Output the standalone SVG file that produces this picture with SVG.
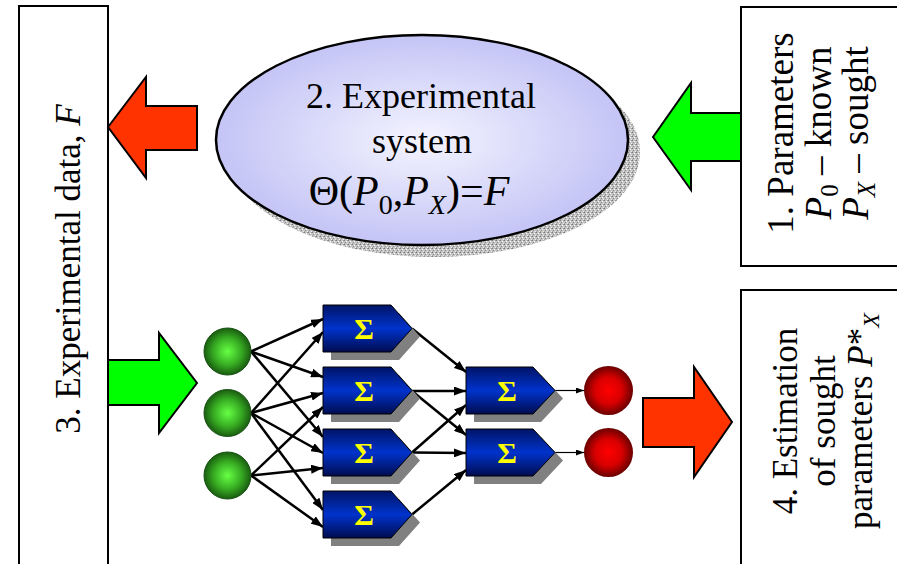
<svg xmlns="http://www.w3.org/2000/svg" width="897" height="564" viewBox="0 0 897 564">
<style>
.box{fill:#fff;stroke:#000;stroke-width:2}
.t{font-family:"Liberation Serif","Times New Roman",serif;fill:#000}
.it{font-style:italic}
.bigarrow{stroke:#000;stroke-width:2;stroke-linejoin:miter}
.red{fill:#ff3300}
.green{fill:#00ff00}
.conn{stroke:#000;stroke-width:2.5;fill:none;marker-end:url(#ah)}
.thin{stroke:#000;stroke-width:1.2;fill:none;marker-end:url(#ahs)}
.sig{fill:url(#blue);stroke:#000;stroke-width:1}
.shadow{fill:#808080}
.sigma{font-family:"Liberation Serif","DejaVu Serif",serif;font-weight:bold;font-size:30px;fill:#ffff00}
</style>
<defs>
<marker id="ah" markerUnits="userSpaceOnUse" markerWidth="12" markerHeight="9" refX="12" refY="4.5" orient="auto"><path d="M0,0 L12,4.5 L0,9 z" fill="#000"/></marker>
<marker id="ahs" markerUnits="userSpaceOnUse" markerWidth="8" markerHeight="6" refX="8" refY="3" orient="auto"><path d="M0,0 L8,3 L0,6 z" fill="#000"/></marker>
<linearGradient id="blue" x1="0" y1="0" x2="0" y2="1"><stop offset="0" stop-color="#001466"/><stop offset="0.5" stop-color="#0033cc"/><stop offset="1" stop-color="#000c50"/></linearGradient>
<radialGradient id="gball" cx="0.5" cy="0.5" r="0.5"><stop offset="0" stop-color="#66ff44"/><stop offset="0.6" stop-color="#36aa22"/><stop offset="1" stop-color="#1a5c10"/></radialGradient>
<radialGradient id="rball" cx="0.5" cy="0.5" r="0.5"><stop offset="0" stop-color="#ff0000"/><stop offset="0.55" stop-color="#d80000"/><stop offset="1" stop-color="#6a0000"/></radialGradient>
<radialGradient id="ell" cx="0.5" cy="0.5" r="0.5"><stop offset="0" stop-color="#f4f4ff"/><stop offset="1" stop-color="#c4c4f6"/></radialGradient>
<pattern id="stip" width="4" height="4" patternUnits="userSpaceOnUse"><rect width="4" height="4" fill="#c4c4c4"/><rect x="0" y="0" width="1" height="1" fill="#7a7a7a"/><rect x="2" y="1" width="1" height="1" fill="#ffffff"/><rect x="1" y="2" width="1" height="1" fill="#8a8a8a"/><rect x="3" y="3" width="1" height="1" fill="#eeeeee"/><rect x="3" y="0" width="1" height="1" fill="#999"/><rect x="0" y="3" width="1" height="1" fill="#aaa"/></pattern>
</defs>

<g id="node3">
<rect class="box" x="19" y="6" width="89" height="600"/>
<text class="t" font-size="35" text-anchor="middle" transform="translate(80,269) rotate(-90)">3. Experimental data, <tspan class="it">F</tspan></text>
</g>

<g id="node1">
<rect class="box" x="741" y="7" width="200" height="259"/>
<g class="t" font-size="37" text-anchor="middle">
<text transform="translate(793,133) rotate(-90)">1. Parameters</text>
<text transform="translate(831,133) rotate(-90)"><tspan class="it">P</tspan><tspan dy="7" font-size="25">0</tspan><tspan dy="-7"> – known</tspan></text>
<text transform="translate(868,133) rotate(-90)"><tspan class="it">P</tspan><tspan dy="7" font-size="25" class="it">X</tspan><tspan dy="-7"> – sought</tspan></text>
</g>
</g>

<g id="node4">
<rect class="box" x="741" y="290" width="200" height="320"/>
<g class="t" font-size="35" text-anchor="middle">
<text transform="translate(797,421) rotate(-90)">4. Estimation</text>
<text transform="translate(835,421) rotate(-90)">of sought</text>
<text transform="translate(872,421) rotate(-90)">parameters <tspan class="it">P</tspan>*<tspan dy="7" font-size="24" class="it">X</tspan></text>
</g>
</g>

<g id="node2">
<ellipse cx="434" cy="152" rx="206" ry="105" fill="url(#stip)"/>
<ellipse cx="422" cy="140" rx="206" ry="105" fill="url(#ell)" stroke="#000" stroke-width="2.5"/>
<g class="t" text-anchor="middle">
<text x="421" y="108" font-size="36">2. Experimental</text>
<text x="422" y="153" font-size="36">system</text>
<text x="409" y="205" font-size="42">Θ(<tspan class="it">P</tspan><tspan dy="9" font-size="28">0</tspan><tspan dy="-9">,</tspan><tspan class="it">P</tspan><tspan dy="9" font-size="28" class="it">X</tspan><tspan dy="-9">)=</tspan><tspan class="it">F</tspan></text>
</g>
</g>

<g id="big-arrows">
<polygon class="bigarrow red" points="108,127 146,77 146,106 197,106 197,150 146,150 146,178"/>
<polygon class="bigarrow green" points="108,360 159,360 159,333 197,383 159,433 159,405 108,405"/>
<polygon class="bigarrow green" points="653,137 691,83 691,113 741,113 741,161 691,161 691,190"/>
<polygon class="bigarrow red" points="643,398 694,398 694,367 732,422 694,477 694,447 643,447"/>
</g>

<g id="connectors">
<line class="conn" x1="251" y1="351.5" x2="323" y2="319"/>
<line class="conn" x1="251" y1="351.5" x2="323" y2="377"/>
<line class="conn" x1="251" y1="351.5" x2="323" y2="437"/>
<line class="conn" x1="251" y1="413" x2="323" y2="332"/>
<line class="conn" x1="251" y1="413" x2="323" y2="393"/>
<line class="conn" x1="251" y1="413" x2="323" y2="453"/>
<line class="conn" x1="251" y1="413" x2="323" y2="510"/>
<line class="conn" x1="251" y1="475.5" x2="323" y2="407"/>
<line class="conn" x1="251" y1="475.5" x2="323" y2="468"/>
<line class="conn" x1="251" y1="475.5" x2="323" y2="527"/>
<line class="conn" x1="412" y1="328.5" x2="466" y2="372"/>
<line class="conn" x1="412" y1="391" x2="466" y2="391"/>
<line class="conn" x1="412" y1="391" x2="466" y2="435"/>
<line class="conn" x1="412" y1="452.5" x2="466" y2="405"/>
<line class="conn" x1="412" y1="452.5" x2="466" y2="453"/>
<line class="conn" x1="412" y1="514.5" x2="466" y2="470"/>
<line class="thin" x1="555" y1="390.5" x2="584" y2="390.5"/>
<line class="thin" x1="555" y1="452.5" x2="584" y2="452.5"/>
</g>

<g id="in1"><circle cx="227.5" cy="351.5" r="23.5" fill="url(#gball)" stroke="#145010" stroke-width="1"/></g>
<g id="in2"><circle cx="227.5" cy="413" r="23.5" fill="url(#gball)" stroke="#145010" stroke-width="1"/></g>
<g id="in3"><circle cx="227.5" cy="475.5" r="23.5" fill="url(#gball)" stroke="#145010" stroke-width="1"/></g>

<g id="h1"><path class="shadow" d="M331,313 h68 l21,23.5 l-21,23.5 h-68 z"/><path class="sig" d="M323,305 h68 l21,23.5 l-21,23.5 h-68 z"/><text class="sigma" x="364" y="339" text-anchor="middle">Σ</text></g>
<g id="h2"><path class="shadow" d="M331,375 h68 l21,23.5 l-21,23.5 h-68 z"/><path class="sig" d="M323,367 h68 l21,23.5 l-21,23.5 h-68 z"/><text class="sigma" x="364" y="401" text-anchor="middle">Σ</text></g>
<g id="h3"><path class="shadow" d="M331,437 h68 l21,23.5 l-21,23.5 h-68 z"/><path class="sig" d="M323,429 h68 l21,23.5 l-21,23.5 h-68 z"/><text class="sigma" x="364" y="463" text-anchor="middle">Σ</text></g>
<g id="h4"><path class="shadow" d="M331,499 h68 l21,23.5 l-21,23.5 h-68 z"/><path class="sig" d="M323,491 h68 l21,23.5 l-21,23.5 h-68 z"/><text class="sigma" x="364" y="525" text-anchor="middle">Σ</text></g>

<g id="o1"><path class="shadow" d="M474,375 h67 l22,23.5 l-22,23.5 h-67 z"/><path class="sig" d="M466,367 h67 l22,23.5 l-22,23.5 h-67 z"/><text class="sigma" x="507" y="401" text-anchor="middle">Σ</text></g>
<g id="o2"><path class="shadow" d="M474,437 h67 l22,23.5 l-22,23.5 h-67 z"/><path class="sig" d="M466,429 h67 l22,23.5 l-22,23.5 h-67 z"/><text class="sigma" x="507" y="463" text-anchor="middle">Σ</text></g>

<g id="out1"><circle cx="608.5" cy="390.5" r="24.5" fill="url(#rball)"/></g>
<g id="out2"><circle cx="608.5" cy="452.5" r="24.5" fill="url(#rball)"/></g>
</svg>
